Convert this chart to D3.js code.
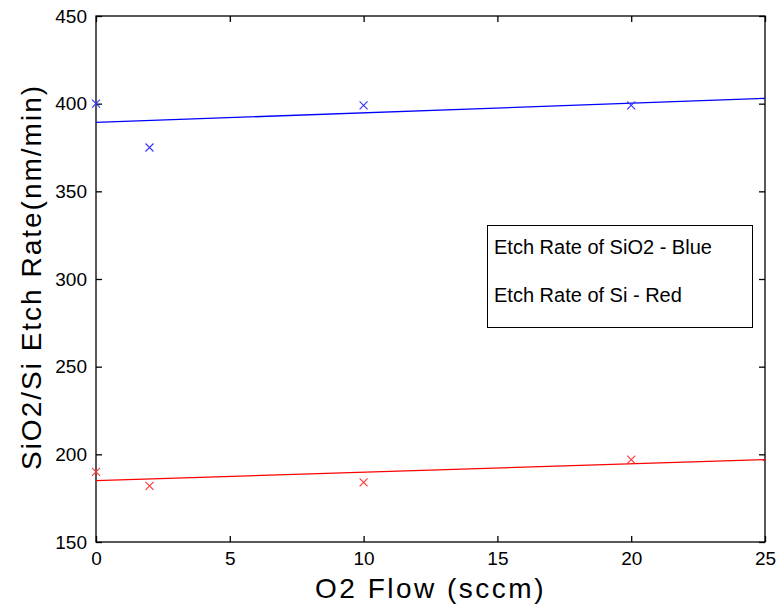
<!DOCTYPE html>
<html><head><meta charset="utf-8">
<script src="https://cdn.jsdelivr.net/npm/d3@7"></script>
<style>body{margin:0;background:#fff}svg{display:block}text{font-family:"Liberation Sans",Arial,sans-serif}</style>
</head><body>
<svg id="c" width="776" height="609"></svg>
<script>
const flow = [0, 2, 10, 20];
const sio2Rate = [400, 375, 399, 399];
const siRate = [190, 182, 184, 197];
const fitX = [0, 25];
const sio2Fit = [389.3, 403];
const siFit = [185, 197];
const xTicks = [0, 5, 10, 15, 20, 25];
const yTicks = [150, 200, 250, 300, 350, 400, 450];
const legendLines = ["Etch Rate of SiO2 - Blue", "Etch Rate of Si - Red"];

const svg = d3.select("#c");
const L = 96, R = 765, T = 16, B = 542;
const x = d3.scaleLinear().domain([0, 25]).range([L, R]);
const y = d3.scaleLinear().domain([150, 450]).range([B, T]);
const tl = 6;

// frame
svg.append("rect").attr("x", L).attr("y", T).attr("width", R - L).attr("height", B - T)
  .attr("fill", "none").attr("stroke", "#000").attr("stroke-width", 1.3);

// axes
const gx = svg.append("g").attr("transform", `translate(0,${B})`)
  .call(d3.axisBottom(x).tickValues(xTicks).tickSize(-tl).tickPadding(10).tickFormat(d3.format("d")));
const gxt = svg.append("g").attr("transform", `translate(0,${T})`)
  .call(d3.axisTop(x).tickValues(xTicks).tickSize(-tl).tickFormat(""));
const gy = svg.append("g").attr("transform", `translate(${L},0)`)
  .call(d3.axisLeft(y).tickValues(yTicks).tickSize(-tl).tickPadding(9).tickFormat(d3.format("d")));
const gyr = svg.append("g").attr("transform", `translate(${R},0)`)
  .call(d3.axisRight(y).tickValues(yTicks).tickSize(-tl).tickFormat(""));
[gx, gxt, gy, gyr].forEach(g => {
  g.select(".domain").remove();
  g.selectAll(".tick line").attr("stroke", "#000").attr("stroke-width", 1.3);
  g.selectAll("text").attr("fill", "#000").style("font-size", "19px").style("font-family", '"Liberation Sans",Arial,sans-serif');
});

// fit lines
const line = d3.line().x(d => x(d[0])).y(d => y(d[1]));
svg.append("path").datum(fitX.map((v, i) => [v, sio2Fit[i]])).attr("d", line)
  .attr("stroke", "#0000ff").attr("stroke-width", 1.3).attr("fill", "none");
svg.append("path").datum(fitX.map((v, i) => [v, siFit[i]])).attr("d", line)
  .attr("stroke", "#ff0000").attr("stroke-width", 1.3).attr("fill", "none");

// markers
const s = 4;
function marks(vals, color) {
  const g = svg.append("g");
  flow.forEach((f, i) => {
    const cx = x(f), cy = y(vals[i]);
    g.append("path").attr("d", `M${cx - s},${cy - s}L${cx + s},${cy + s}M${cx - s},${cy + s}L${cx + s},${cy - s}`)
      .attr("stroke", color).attr("stroke-width", 1.1).attr("fill", "none");
  });
}
marks(sio2Rate, "#3333ff");
marks(siRate, "#ff3333");

// legend
svg.append("rect").attr("x", 487.5).attr("y", 225.5).attr("width", 265).attr("height", 102)
  .attr("fill", "#fff").attr("stroke", "#000").attr("stroke-width", 1);
legendLines.forEach((t, i) => {
  svg.append("text").attr("x", 494).attr("y", 254 + i * 48).text(t)
    .style("font-size", "20px").attr("fill", "#000");
});

// axis titles
svg.append("text").attr("x", (L + R) / 2).attr("y", 598).attr("text-anchor", "middle")
  .style("font-size", "28px").style("letter-spacing", "2.5px").text("O2 Flow (sccm)");
svg.append("text").attr("transform", `translate(41,${(T + B) / 2 - 2}) rotate(-90)`).attr("text-anchor", "middle")
  .style("font-size", "28px").style("letter-spacing", "2px").text("SiO2/Si Etch Rate(nm/min)");
</script>
</body></html>
